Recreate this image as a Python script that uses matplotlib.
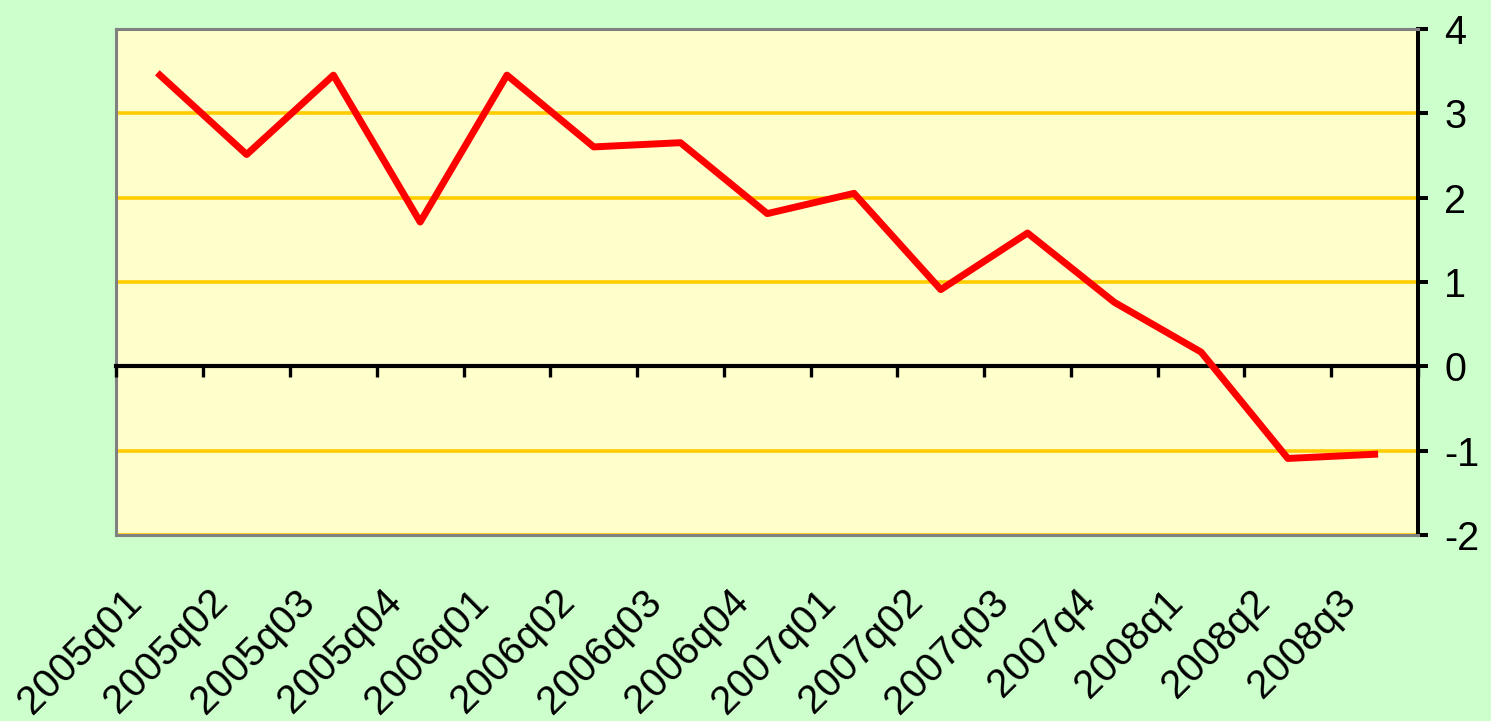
import matplotlib
matplotlib.use('Agg')
import matplotlib.pyplot as plt
import matplotlib.transforms as mtransforms
import numpy as np

# quarterly series
quarters = ['2005q01', '2005q02', '2005q03', '2005q04',
            '2006q01', '2006q02', '2006q03', '2006q04',
            '2007q01', '2007q02', '2007q03', '2007q4',
            '2008q1', '2008q2', '2008q3']
values = [3.45, 2.51, 3.45, 1.71, 3.45, 2.60, 2.65, 1.81,
          2.05, 0.91, 1.58, 0.76, 0.17, -1.09, -1.04]
y_ticks = [-2, -1, 0, 1, 2, 3, 4]

plt.rcParams['font.family'] = ['Liberation Sans', 'DejaVu Sans']
plt.rcParams['axes.unicode_minus'] = False

W, H = 1491, 721
fig = plt.figure(figsize=(W / 100, H / 100), dpi=100, facecolor='#CCFFCC')
ax = fig.add_axes([116.5 / W, 1 - 535.3 / H, (1418 - 116.5) / W, (535.3 - 28.7) / H])
ax.set_facecolor('#FFFFCC')

x = np.arange(len(quarters))
ax.plot(x, values, color='#FF0000', lw=5, zorder=3)

ax.set_xlim(-0.5, len(quarters) - 0.5)
ax.set_ylim(y_ticks[0], y_ticks[-1])

# gold horizontal gridlines
ax.set_yticks(y_ticks)
ax.yaxis.grid(True, color='#FFCC00', lw=2.6)
ax.set_axisbelow(True)

# value axis on the right
ax.yaxis.tick_right()
ax.tick_params(axis='y', direction='out', length=7, width=2.9, colors='black',
               labelsize=28.5, pad=12)

# borders
for side in ['left', 'top', 'bottom']:
    ax.spines[side].set_color('#808080')
    ax.spines[side].set_linewidth(2.2)
ax.spines['right'].set_color('black')
ax.spines['right'].set_linewidth(2.9)

# category labels below the plot, rotated
ax.set_xticks(x)
ax.set_xticklabels(quarters, rotation=45, ha='right', va='top', rotation_mode='anchor')
ax.tick_params(axis='x', length=0, pad=34, labelsize=29)
shift = mtransforms.ScaledTranslation(-0.38, 0, fig.dpi_scale_trans)
for lab in ax.get_xticklabels():
    lab.set_transform(lab.get_transform() + shift)

# category axis crossing at zero with tick marks between categories
sec = ax.secondary_xaxis(1 / 3)
sec.set_xticks(np.arange(-0.5, len(quarters), 1))
sec.tick_params(direction='out', length=8, width=2.4, color='black',
                labelbottom=False, labeltop=False)
for side in ['top', 'bottom']:
    sec.spines[side].set_color('black')
    sec.spines[side].set_linewidth(3.0)
sec.set_zorder(2.5)

fig.savefig('out.png', dpi=100, facecolor=fig.get_facecolor())
